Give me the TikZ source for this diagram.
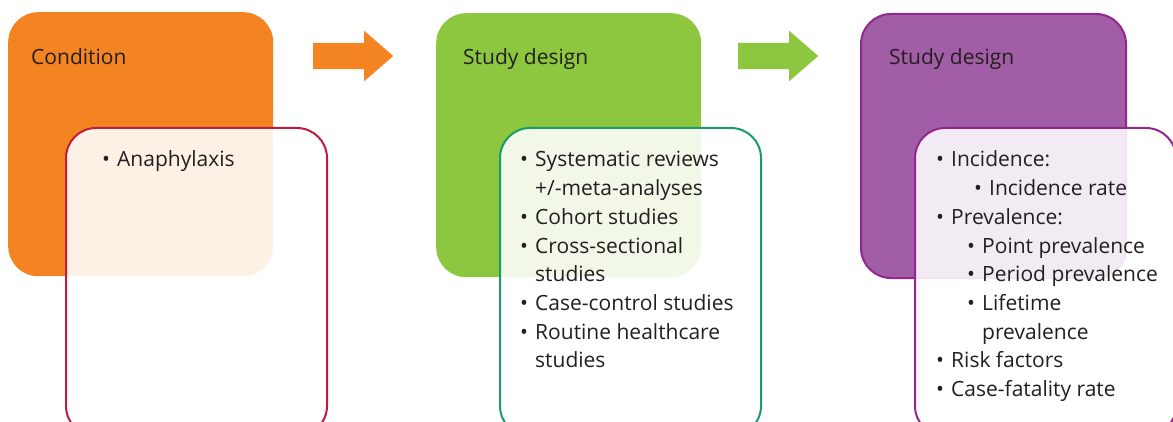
\documentclass[tikz,border=0pt]{standalone}
\usepackage{fontspec}
\setmainfont{Open Sans}
\usetikzlibrary{positioning,shapes.arrows}
\definecolor{tangerine}{RGB}{243,132,33}
\definecolor{lime}{RGB}{141,198,63}
\definecolor{plum}{RGB}{161,93,165}
\definecolor{plumline}{RGB}{146,39,143}
\definecolor{crimson}{RGB}{190,30,60}
\definecolor{jade}{RGB}{26,155,108}
\definecolor{ink}{RGB}{35,31,32}

\begin{document}
\begin{tikzpicture}[x=1pt,y=-1pt,
    headbox/.style={rectangle,rounded corners=30pt,anchor=north west,inner sep=0pt,
      minimum width=265pt,minimum height=264pt},
    listbox/.style={rectangle,rounded corners=30pt,anchor=north west,inner sep=0pt,
      line width=2pt,fill=white,fill opacity=0.88,minimum width=261pt,minimum height=308pt},
    flow/.style={single arrow,anchor=west,inner sep=0pt,inner ysep=13pt,minimum height=80pt,
      minimum width=50pt,single arrow head extend=12pt,single arrow tip angle=82},
    txt/.style={text=ink,font=\fontsize{21}{25}\selectfont,inner sep=0pt}]
  \useasboundingbox (0,0) rectangle (1173,422);
  \clip (0,0) rectangle (1173,422);

  % coloured heading boxes
  \node[headbox,fill=tangerine] (cond) at (8,12) {};
  \node[headbox,fill=lime] (design) at (436,13) {};
  \node[headbox,fill=plum,draw=plumline,line width=2pt] (measure) at (860,13) {};
  \node[txt,anchor=base west] (cond-t) at (31,65) {Condition};
  \node[txt,anchor=base west] (design-t) at (463,65) {Study design};
  \node[txt,anchor=base west] (measure-t) at (889,65) {Study design};

  % arrows
  \node[flow,fill=tangerine] (arr1) at (313,56) {};
  \node[flow,fill=lime] (arr2) at (738,56) {};

  % overlapping list boxes
  \node[listbox,draw=crimson] (condlist) at (65,127) {};
  \node[listbox,draw=jade] (designlist) at (499,127) {};
  \node[listbox,draw=plumline] (measurelist) at (914,127) {};

  % list entries: text x / bullet / text
  \foreach \x/\b/\t [count=\i from 0] in {117/1/Anaphylaxis}
  {
    \node[txt,anchor=base west] (c\i) at (\x,167+28.7*\i) {\t};
    \ifnum\b=1 \node[txt,anchor=base] (cb\i) at (\x-11,167+28.7*\i) {•}; \fi
  }
  \foreach \x/\b/\t [count=\i from 0] in {
      535/1/Systematic reviews, 535/0/{+/-meta-analyses}, 535/1/Cohort studies,
      535/1/Cross-sectional, 535/0/studies, 535/1/Case-control studies,
      535/1/Routine healthcare, 535/0/studies}
  {
    \node[txt,anchor=base west] (d\i) at (\x,167+28.7*\i) {\t};
    \ifnum\b=1 \node[txt,anchor=base] (db\i) at (\x-11,167+28.7*\i) {•}; \fi
  }
  \foreach \x/\b/\t [count=\i from 0] in {
      951/1/Incidence:, 989/1/Incidence rate, 951/1/Prevalence:,
      982/1/Point prevalence, 982/1/Period prevalence, 982/1/Lifetime,
      982/0/prevalence, 951/1/Risk factors, 951/1/Case-fatality rate}
  {
    \node[txt,anchor=base west] (m\i) at (\x,167+28.7*\i) {\t};
    \ifnum\b=1 \node[txt,anchor=base] (mb\i) at (\x-11,167+28.7*\i) {•}; \fi
  }
\end{tikzpicture}
\end{document}
